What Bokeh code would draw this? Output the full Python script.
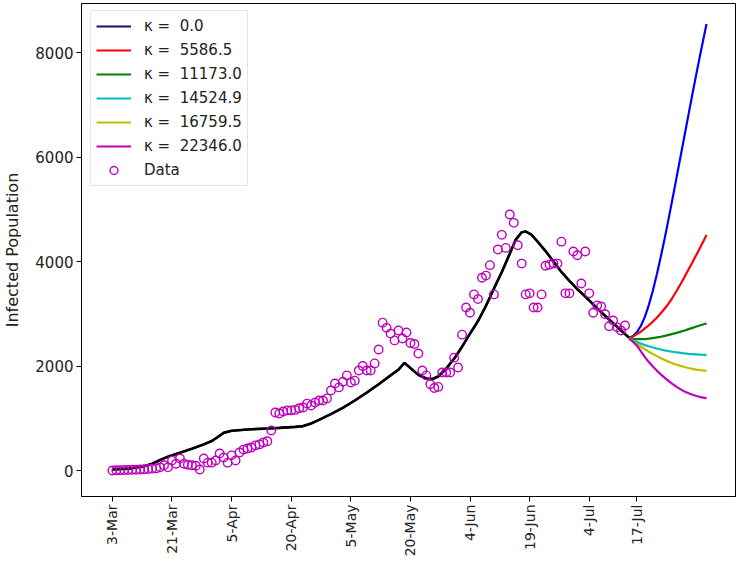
import math
from bokeh.plotting import figure
from bokeh.models import FixedTicker, Range1d, Legend, LegendItem
from bokeh.embed import file_html
from bokeh.resources import INLINE

# ---- data ----
tick_days = [0, 15, 30, 45, 60, 75, 90, 105, 120, 132]
tick_labels = ["3-Mar", "21-Mar", "5-Apr", "20-Apr", "5-May", "20-May",
               "4-Jun", "19-Jun", "4-Jul", "17-Jul"]
y_ticks = [0, 2000, 4000, 6000, 8000]

data_days = list(range(130))
data_values = [
    0, 5, 5, 10, 10, 15, 15, 20, 25, 30,
    35, 40, 60, 100, 60, 190, 130, 230, 130, 110,
    100, 90, 20, 230, 150, 150, 190, 325, 250, 150,
    290, 190, 345, 400, 420, 440, 480, 500, 535, 560,
    765, 1110, 1090, 1130, 1150, 1150, 1160, 1190, 1205, 1280,
    1245, 1300, 1340, 1340, 1380, 1530, 1665, 1590, 1700, 1820,
    1685, 1720, 1915, 2000, 1915, 1915, 2050, 2315, 2830, 2730,
    2620, 2490, 2680, 2525, 2640, 2440, 2420, 2240, 1915, 1820,
    1650, 1580, 1600, 1875, 1875, 1875, 2160, 1970, 2600, 3120,
    3020, 3370, 3280, 3690, 3730, 3930, 3370, 4230, 4510, 4260,
    4900, 4740, 4310, 3960, 3370, 3390, 3120, 3120, 3370, 3920,
    3940, 3960, 3960, 4380, 3390, 3390, 4190, 4120, 3580, 4190,
    3390, 3020, 3160, 3140, 2990, 2760, 2870, 2740, 2680, 2775,
]

fit_days = [0, 4, 8, 10, 12, 14, 17, 20, 23, 25, 26.5, 28, 30, 34, 38, 42, 46,
            48, 50, 52, 55, 58, 61, 64, 67, 70, 72, 73.5, 75, 77, 79, 80.5, 82,
            84, 86, 88, 90, 92, 94, 96, 98, 100, 101.5, 103, 104, 105.5, 107,
            109, 111, 113, 115, 117, 119, 121, 123, 125, 127, 129, 130]
fit_values = [20, 35, 80, 130, 200, 265, 340, 415, 500, 565, 640, 720, 760,
              785, 800, 815, 835, 850, 900, 970, 1080, 1200, 1340, 1490, 1650,
              1820, 1930, 2060, 1960, 1830, 1760, 1750, 1800, 1950, 2140, 2370,
              2620, 2860, 3150, 3480, 3800, 4150, 4420, 4560, 4575, 4510, 4380,
              4200, 4000, 3800, 3630, 3470, 3330, 3180, 3030, 2890, 2750, 2610,
              2545]

pred_days = [130, 131, 132, 133, 134, 135, 136, 137, 138, 139, 140,
             141, 142, 143, 144, 145, 146, 147, 148, 149, 149.5]
kappa_labels = ["0.0", "5586.5", "11173.0", "14524.9", "16759.5", "22346.0"]
pred_k1 = [2530, 2575, 2650, 2770, 2940, 3170, 3440, 3750, 4090, 4450, 4830,
           5220, 5620, 6020, 6420, 6820, 7220, 7610, 7990, 8360, 8545]
pred_k2 = [2530, 2565, 2610, 2660, 2720, 2780, 2850, 2925, 3010, 3100, 3200,
           3315, 3440, 3570, 3710, 3850, 3990, 4135, 4280, 4430, 4510]
pred_k3 = [2530, 2520, 2515, 2513, 2515, 2523, 2535, 2547, 2560, 2577, 2595,
           2615, 2635, 2657, 2680, 2705, 2730, 2755, 2780, 2803, 2815]
pred_k4 = [2530, 2492, 2460, 2428, 2400, 2377, 2355, 2334, 2315, 2299, 2285,
           2272, 2260, 2250, 2240, 2233, 2228, 2223, 2218, 2214, 2212]
pred_k5 = [2530, 2472, 2420, 2368, 2320, 2274, 2230, 2189, 2150, 2114, 2080,
           2051, 2025, 2002, 1980, 1962, 1945, 1932, 1920, 1910, 1905]
pred_k6 = [2530, 2465, 2390, 2280, 2170, 2075, 1990, 1912, 1840, 1773, 1710,
           1653, 1600, 1553, 1510, 1478, 1450, 1426, 1405, 1390, 1380]

# ---- figure ----
FONT = "DejaVu Sans"
p = figure(width=736, height=560,
           x_range=Range1d(-7.77, 156.8), y_range=Range1d(-497.6, 8937.8),
           output_backend="svg", toolbar_location=None,
           min_border_left=78, min_border_right=1,
           min_border_top=3, min_border_bottom=64)
p.xgrid.visible = False
p.ygrid.visible = False
p.outline_line_color = "black"
p.outline_line_width = 1
p.background_fill_color = "white"
p.border_fill_color = "white"

p.xaxis.ticker = FixedTicker(ticks=tick_days)
p.xaxis.major_label_overrides = {d: l for d, l in zip(tick_days, tick_labels)}
p.xaxis.major_label_orientation = math.pi / 2
p.yaxis.ticker = FixedTicker(ticks=y_ticks)
for ax in (p.xaxis, p.yaxis):
    ax.major_tick_out = 5
    ax.major_tick_in = 0
    ax.minor_tick_out = 0
    ax.minor_tick_in = 0
    ax.axis_line_color = "black"
    ax.major_tick_line_color = "black"
    ax.major_label_text_font = FONT
    ax.major_label_text_color = "#222222"
    ax.major_label_standoff = 3
p.xaxis.major_label_text_font_size = "14px"
p.yaxis.major_label_text_font_size = "15px"

p.yaxis.axis_label = "Infected Population"
p.yaxis.axis_label_text_font = FONT
p.yaxis.axis_label_text_font_size = "16px"
p.yaxis.axis_label_text_font_style = "normal"
p.yaxis.axis_label_text_color = "#222222"
p.yaxis.axis_label_standoff = 10

colors = ["#0000ff", "#ff0000", "#008000", "#00bfbf", "#bfbf00", "#bf00bf"]
preds = [pred_k1, pred_k2, pred_k3, pred_k4, pred_k5, pred_k6]

# navy kappa = 0 curve over the fitted period (covered by the black fit line)
navy = p.line(fit_days, fit_values, line_color="#10107a", line_width=2.2)
pred_renderers = []
for c, vals in zip(colors, preds):
    pred_renderers.append(p.line(pred_days, vals, line_color=c, line_width=2.2))

p.line(fit_days, fit_values, line_color="black", line_width=2.6)

sc = p.scatter(data_days, data_values, marker="circle", size=8.5,
               fill_color=None, line_color="#bf00bf", line_width=1.4)

items = [LegendItem(label="κ =  " + kappa_labels[0], renderers=[navy])]
for r, k in zip(pred_renderers[1:], kappa_labels[1:]):
    items.append(LegendItem(label="κ =  " + k, renderers=[r]))
items.append(LegendItem(label="Data", renderers=[sc]))

legend = Legend(items=items, location=(9, 310))
legend.label_text_font = FONT
legend.label_text_font_size = "15px"
legend.label_text_color = "#222222"
legend.glyph_width = 35
legend.glyph_height = 20
legend.label_height = 20
legend.spacing = 4
legend.padding = 5
legend.label_standoff = 13
legend.border_line_color = "#cccccc"
legend.border_line_width = 1
legend.background_fill_alpha = 0.85
p.add_layout(legend)

open("out.html", "w").write(file_html(p, INLINE))
